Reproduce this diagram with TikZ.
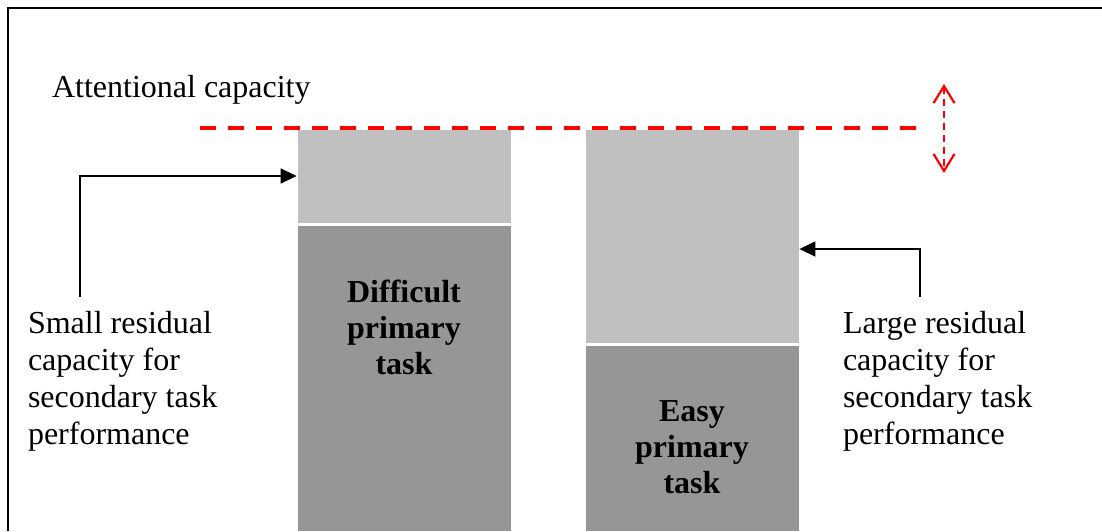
\documentclass[tikz,border=0pt]{standalone}
\usepackage{fontspec}
\setmainfont{Liberation Serif}
\usetikzlibrary{arrows.meta}
\definecolor{lightbar}{RGB}{192,192,192}
\definecolor{darkbar}{RGB}{150,150,150}
\definecolor{capred}{RGB}{255,0,0}
\tikzset{
  barbox/.style={draw=white, line width=0.8pt, inner sep=0pt, minimum width=214pt},
  lightbox/.style={barbox, fill=lightbar},
  darkbox/.style={barbox, fill=darkbar},
  boldtext/.style={inner sep=0pt, font=\bfseries\fontsize{32pt}{36pt}\selectfont, align=center},
  plaintext/.style={inner sep=0pt, outer sep=0pt, font=\fontsize{32pt}{36.8pt}\selectfont, align=left},
  conn/.style={draw=black, line width=1.5pt, -{Triangle[length=16pt,width=15pt]}},
  capline/.style={draw=capred, line width=3.5pt, dash pattern=on 16pt off 12pt},
  caparrow/.style={draw=capred, line width=2.2pt, dash pattern=on 7pt off 5pt,
     {Straight Barb[length=17pt,width=21pt]}-{Straight Barb[length=17pt,width=21pt]}}
}
\begin{document}
\begin{tikzpicture}[x=1pt,y=-1pt]
\useasboundingbox (0,0) rectangle (1102,531);
% frame
\draw[line width=1.5pt] (8,531) -- (8,8) -- (1102,8);
% bars
\node[lightbox, minimum height=94pt] (r1) at (404,176) {};
\node[darkbox, minimum height=306pt] (d1) at (404,378) {};
\node[lightbox, minimum height=214pt] (r2) at (692,236) {};
\node[darkbox, minimum height=186pt] (d2) at (692,438) {};
% bold labels
\node[boldtext, anchor=base] (t1) at (404,374) {Difficult\\primary\\task};
\node[boldtext, anchor=base] (t2) at (692,493) {Easy\\primary\\task};
% capacity line
\coordinate (cl) at (200,128);
\coordinate (cr) at (917,128);
\draw[capline] (cl) -- (cr);
\coordinate (at) at (944,84);
\coordinate (ab) at (944,173);
\draw[caparrow] (at) -- (ab);
% texts
\node[plaintext, anchor=base west] (att) at (52,97) {Attentional capacity};
\node[plaintext, anchor=base west] (small) at (28,444) {Small residual\\capacity for\\secondary task\\performance};
\node[plaintext, anchor=base west] (large) at (843,444) {Large residual\\capacity for\\secondary task\\performance};
% connectors
\coordinate (lc) at (80,297);
\draw[conn] (lc) |- (r1.west);
\coordinate (rc) at (920,297);
\coordinate (rk) at (920,249);
\draw[conn] (rc) -- (rk) -- (rk -| r2.east);
\end{tikzpicture}
\end{document}
